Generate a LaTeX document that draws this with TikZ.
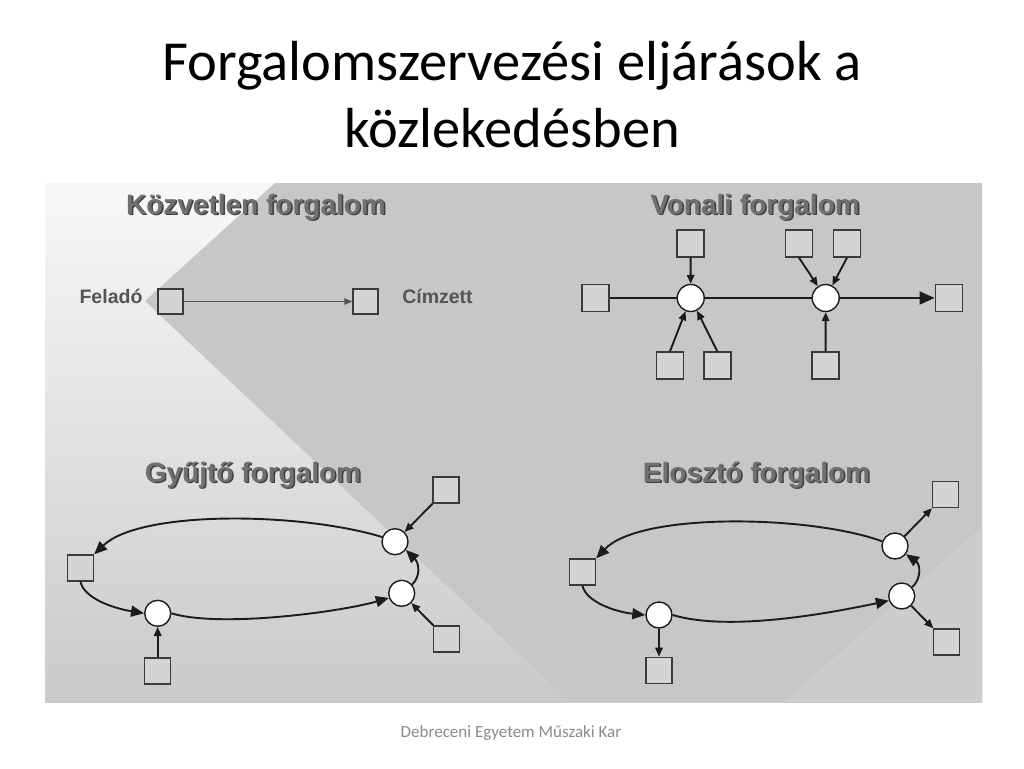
\documentclass[tikz,border=0pt]{standalone}
\usepackage{fontspec}
\setmainfont{Carlito}
\newfontfamily\arialf{Liberation Sans}
\usetikzlibrary{arrows.meta}
\definecolor{boxfill}{HTML}{D4D4D4}
\definecolor{boxline}{HTML}{3A3A3A}
\definecolor{lnkc}{HTML}{1C1C1C}
\definecolor{ttl}{HTML}{707070}
\definecolor{ttlsh}{HTML}{404040}
\definecolor{darkbg}{HTML}{C7C7C7}
\definecolor{lighttri}{HTML}{CDCDCD}
\definecolor{lightTop}{HTML}{F8F8F8}
\definecolor{lightBot}{HTML}{CACACA}
\definecolor{footc}{HTML}{8A8A8A}
\definecolor{lblc}{HTML}{555555}
\tikzset{
  sq/.style={shape=rectangle, draw=boxline, fill=boxfill, line width=1.4pt, minimum size=26pt, inner sep=0pt},
  jn/.style={shape=circle, draw=lnkc, fill=white, line width=1.4pt, minimum size=26pt, inner sep=0pt},
  lnk/.style={draw=lnkc, line width=1.9pt},
  sarr/.style={lnk, -{Triangle[length=9pt,width=7.5pt]}},
  barr/.style={lnk, -{Triangle[length=13pt,width=11pt]}},
  harr/.style={lnk, line width=2pt, -{Triangle[length=15pt,width=13pt]}},
  tarr/.style={draw=lblc, line width=1.3pt, -{Triangle[length=8pt,width=6.5pt]}},
  ptitle/.style={anchor=base, inner sep=0pt, text=ttl, font=\arialf\bfseries\fontsize{28}{30}\selectfont},
  ptitlesh/.style={anchor=base, inner sep=0pt, text=ttlsh, font=\arialf\bfseries\fontsize{28}{30}\selectfont},
  lbl/.style={anchor=base, inner sep=0pt, text=lblc, font=\arialf\bfseries\fontsize{19.5}{21}\selectfont},
  mtitle/.style={anchor=base, inner sep=0pt, text=black, font=\fontsize{56.5}{60}\selectfont}
}
\begin{document}
\begin{tikzpicture}[x=1pt,y=-1pt]
\useasboundingbox (0,0) rectangle (1024,768);
\fill[white] (0,0) rectangle (1024,768);
% background image area
\shade[top color=lightTop, bottom color=lightBot] (45,183) rectangle (982,702);
\fill[darkbg] (145,301) -- (275,183) -- (982,183) -- (982,702) -- (570,702) -- cycle;
\fill[lighttri] (982,527) -- (982,702) -- (784,702) -- cycle;

% main title
\node[mtitle] (title1) at (512,80) {Forgalomszervezési eljárások a};
\node[mtitle] (title2) at (512,147) {közlekedésben};

% ---------- Közvetlen forgalom ----------
\node[ptitlesh] (t1s) at (257.5,215.5) {Közvetlen forgalom};
\node[ptitle] (t1) at (256,214) {Közvetlen forgalom};
\node[lbl] (fel) at (111,303.7) {Feladó};
\node[lbl] (cim) at (437.5,303.7) {Címzett};
\node[sq, minimum size=25pt] (k1) at (170.5,301.5) {};
\node[sq, minimum size=25pt] (k2) at (365.5,301.5) {};
\draw[tarr] (k1) -- (k2);

% ---------- Vonali forgalom ----------
\node[ptitlesh] (t2s) at (756.5,215.5) {Vonali forgalom};
\node[ptitle] (t2) at (755,214) {Vonali forgalom};
\node[sq, minimum size=27pt] (vl) at (595.5,298) {};
\node[jn, minimum size=27pt] (v1) at (690.7,298) {};
\node[jn, minimum size=27pt] (v2) at (825.7,298) {};
\node[sq, minimum size=27pt] (vr) at (948.7,298) {};
\node[sq, minimum size=27pt] (vt1) at (690.5,243.5) {};
\node[sq, minimum size=27pt] (vt2) at (799,243.5) {};
\node[sq, minimum size=27pt] (vt3) at (847,243.5) {};
\node[sq, minimum size=27pt] (vb1) at (670,365.5) {};
\node[sq, minimum size=27pt] (vb2) at (717.3,365.5) {};
\node[sq, minimum size=27pt] (vb3) at (825.5,365.5) {};
\draw[lnk, line width=2pt] (vl) -- (v1);
\draw[lnk, line width=2pt] (v1) -- (v2);
\draw[harr] (v2) -- (vr);
\draw[sarr] (vt1) -- (v1);
\draw[sarr] (vt2.south) -- (v2);
\draw[sarr] (vt3.south) -- (v2);
\draw[sarr] (vb1.north) -- (v1);
\draw[sarr] (vb2.north) -- (v1);
\draw[sarr] (vb3) -- (v2);

% ---------- Gyűjtő forgalom ----------
\node[ptitlesh] (t3s) at (254.5,483.5) {Gyűjtő forgalom};
\node[ptitle] (t3) at (253,482) {Gyűjtő forgalom};
\node[sq] (gl) at (80.5,568) {};
\node[jn] (gA) at (157.7,613.3) {};
\node[jn] (gB) at (395,541.7) {};
\node[jn] (gC) at (401.7,593.3) {};
\node[sq] (gt) at (446,490) {};
\node[sq] (gr) at (446.7,639) {};
\node[sq] (gb) at (157.7,671) {};
\draw[barr] (gB.160) .. controls (300,512) and (140,510) .. (gl.north east);
\draw[barr] (gl.south) .. controls (84,598) and (112,608) .. (gA.west);
\draw[barr] (gA.east) .. controls (220,628) and (340,612) .. (gC.200);
\draw[barr] (gC.40) .. controls (421,576) and (419,563) .. (gB.-37);
\draw[sarr] (gt) -- (gB);
\draw[sarr] (gr) -- (gC);
\draw[sarr] (gb) -- (gA);

% ---------- Elosztó forgalom ----------
\node[ptitlesh] (t4s) at (758,483.5) {Elosztó forgalom};
\node[ptitle] (t4) at (756.5,482) {Elosztó forgalom};
\node[sq] (el) at (582.5,572) {};
\node[jn] (eA) at (659,615) {};
\node[jn] (eB) at (895,546) {};
\node[jn] (eC) at (901.7,596) {};
\node[sq] (et) at (945.3,494.5) {};
\node[sq] (er) at (946.7,642) {};
\node[sq] (eb) at (659,670.3) {};
\draw[barr] (eB.160) .. controls (810,515) and (640,512) .. (el.north east);
\draw[barr] (el.south) .. controls (586,602) and (616,612) .. (eA.west);
\draw[barr] (eA.east) .. controls (730,632) and (830,613) .. (eC.200);
\draw[barr] (eC.40) .. controls (922,578) and (920,564) .. (eB.-37);
\draw[sarr] (eB) -- (et);
\draw[sarr] (eC) -- (er);
\draw[sarr] (eA) -- (eb);

% footer
\node[anchor=base, inner sep=0pt, text=footc, font=\fontsize{17}{20}\selectfont] (foot) at (511,737) {Debreceni Egyetem Műszaki Kar};
\end{tikzpicture}
\end{document}
